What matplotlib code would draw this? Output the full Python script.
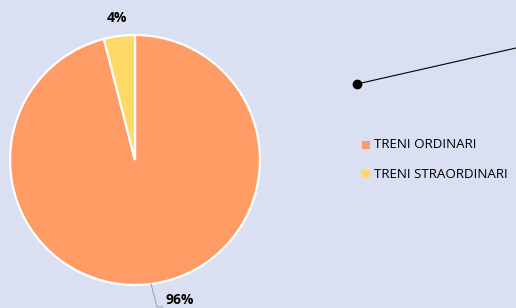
import matplotlib.pyplot as plt
from matplotlib.lines import Line2D
from matplotlib.patches import Rectangle

labels = ['TRENI ORDINARI', 'TRENI STRAORDINARI']
values = [96, 4]
pct_labels = ['96%', '4%']
colors = ['#FF9C66', '#FFD966']
bg = '#DAE0F2'

plt.rcParams['font.family'] = ['Open Sans', 'DejaVu Sans']

fig = plt.figure(figsize=(5.16, 3.08), dpi=100)
fig.patch.set_facecolor(bg)

W, H = 516, 308
# pie axes, 250 px square, centred on (135, 160) in pixel space
ax = fig.add_axes([10 / W, 23 / H, 250 / W, 250 / H])
ax.set_facecolor(bg)
ax.pie(values, colors=colors, startangle=90, counterclock=False, radius=1,
       wedgeprops=dict(edgecolor='white', linewidth=1.6))
ax.set_xlim(-1, 1)
ax.set_ylim(-1, 1)
ax.set_aspect('auto')
ax.axis('off')

# data labels
ax.text(-0.144, 1.135, pct_labels[1], ha='center', va='center',
        fontsize=10, fontweight='bold', clip_on=False)
ax.text(0.36, -1.12, pct_labels[0], ha='center', va='center',
        fontsize=10, fontweight='bold', clip_on=False)
ax.plot([0.128, 0.176, 0.22], [-0.99, -1.175, -1.175], color='#A6A6A6',
        linewidth=0.8, clip_on=False)

# legend
for i, (lab, col) in enumerate(zip(labels, colors)):
    y = 145 + i * 29
    fig.patches.append(Rectangle((362 / W, (H - y - 4) / H), 8 / W, 8 / H,
                                 transform=fig.transFigure, facecolor=col,
                                 edgecolor='none'))
    fig.text(374 / W, (H - y) / H, lab, ha='left', va='center', fontsize=9.6)

# decorative line with dot
fig.add_artist(Line2D([357 / W, 1.0], [(H - 84) / H, (H - 48) / H],
                      transform=fig.transFigure, color='black', linewidth=0.8))
fig.add_artist(Line2D([357 / W], [(H - 84) / H], transform=fig.transFigure,
                      marker='o', markersize=6, color='black'))

fig.savefig('out.png', dpi=100, facecolor=bg)
